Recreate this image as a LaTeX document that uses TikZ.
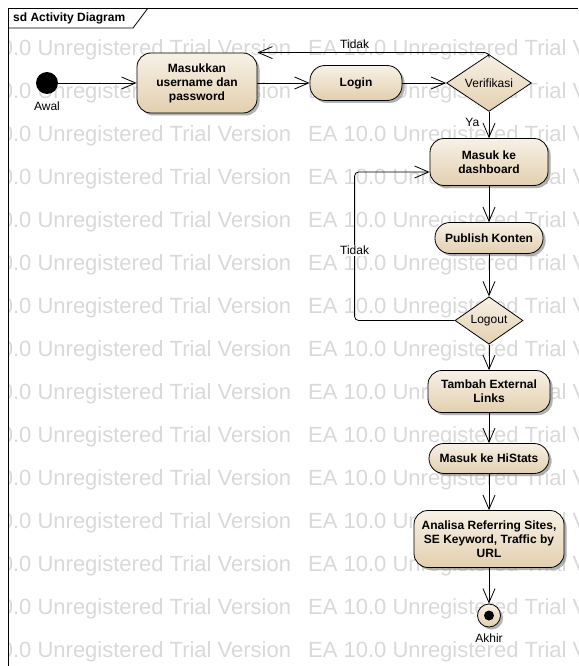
\documentclass[tikz,border=0pt]{standalone}
\usepackage{fontspec}
\setmainfont{Liberation Sans}
\usetikzlibrary{shapes.geometric, arrows.meta, shadows}
\definecolor{arena}{HTML}{F7F1E6}
\definecolor{arenaosc}{HTML}{E3CFAF}
\newcommand{\marcaagua}{EA 10.0 Unregistered Trial Version}
\tikzstyle{sombra} = [drop shadow={shadow xshift=2.5pt, shadow yshift=-2.5pt, top color=black!40, bottom color=black!40, opacity=0.45}]
\tikzstyle{accion} = [rectangle, rounded corners=14pt, align=center, draw=black, line width=0.8pt, top color=arena, bottom color=arenaosc, sombra, font=\fontsize{12}{14}\selectfont\bfseries]
\tikzstyle{pildora} = [accion, rounded corners=15pt]
\tikzstyle{decision} = [diamond, draw=black, line width=0.8pt, top color=arena, bottom color=arenaosc, inner sep=0pt, font=\fontsize{12}{14}\selectfont]
\tikzstyle{inicio} = [circle, fill=black, minimum size=22pt, inner sep=0pt]
\tikzstyle{nodofinal} = [circle, draw=black, line width=0.8pt, top color=arena, bottom color=arenaosc, sombra, minimum size=23pt, inner sep=0pt]
\tikzstyle{etiqueta} = [font=\fontsize{12}{14}\selectfont]
\tikzstyle{marca} = [anchor=west, inner sep=0pt, text=black!15, font=\fontsize{22}{24}\selectfont]
\tikzstyle{arrow} = [line width=0.8pt, -{Straight Barb[length=14pt, width=12pt]}]

\begin{document}
\begin{tikzpicture}[x=1pt, y=-1pt, node distance=150pt]
        \useasboundingbox (0,0) rectangle (578,666);
        \begin{scope}
            \clip (8,8) rectangle (578,666);
            \foreach \fila in {0,...,14} {
                \foreach \col in {-47,308} {
                    \node [marca] at (\col, 50+43*\fila) {\marcaagua};
                }
            }
        \end{scope}

        \draw [line width=0.8pt] (578,8) -- (8,8) -- (8,666);
        \draw [line width=0.8pt] (8,28) -- (133,28) -- (148,8);
        \node (titulo) [anchor=west, inner sep=0pt, font=\fontsize{12}{14}\selectfont\bfseries] at (13,18.5) {sd Activity Diagram};

        \node (awal) [inicio] at (47,83) {};
        \node (lblawal) [etiqueta, below of=awal, node distance=23pt] {Awal};
        \node (masukkan) [accion, minimum width=120pt, minimum height=60pt, right of=awal] {Masukkan\\username dan\\password};
        \node (login) [pildora, minimum width=92pt, minimum height=35pt, right of=masukkan, node distance=159pt] {Login};
        \node (verifikasi) [decision, minimum width=85pt, minimum height=48pt, right of=login, node distance=133pt] {Verifikasi};
        \node (dashboard) [accion, minimum width=118pt, minimum height=47pt, below of=verifikasi, node distance=79pt] {Masuk ke\\dashboard};
        \node (publish) [pildora, minimum width=108pt, minimum height=31pt, below of=dashboard, node distance=76pt] {Publish Konten};
        \node (logout) [decision, minimum width=68pt, minimum height=44pt, below of=publish, node distance=82.5pt] {Logout};
        \node (tambah) [accion, minimum width=122pt, minimum height=42pt, below of=logout, node distance=71pt] {Tambah External\\Links};
        \node (histats) [pildora, minimum width=120pt, minimum height=30pt, below of=tambah, node distance=67pt] {Masuk ke HiStats};
        \node (analisa) [accion, minimum width=150pt, minimum height=57pt, below of=histats, node distance=80.5pt] {Analisa Referring Sites,\\SE Keyword, Traffic by\\URL};
        \node (akhir) [nodofinal, below of=analisa, node distance=76.5pt] {};
        \fill (akhir) circle (5pt);
        \node (lblakhir) [etiqueta, below of=akhir, node distance=23pt] {Akhir};

        \draw [arrow] (awal) -- (masukkan);
        \draw [arrow] (masukkan) -- (login);
        \draw [arrow] (login) -- (verifikasi);
        \draw [arrow, rounded corners=4pt] (verifikasi.north) |- node [etiqueta, above, pos=0.79] {Tidak} (masukkan.north east);
        \draw [arrow] (verifikasi) -- node [etiqueta, left=6pt, pos=0.4] {Ya} (dashboard);
        \draw [arrow] (dashboard) -- (publish);
        \draw [arrow] (publish) -- (logout);
        \draw [arrow, rounded corners=4pt] (logout.west) -- ++(-100,0) |- node [etiqueta, fill=white, inner sep=1pt, pos=0.236] {Tidak} ([yshift=-10pt]dashboard.west);
        \draw [arrow] (logout) -- (tambah);
        \draw [arrow] (tambah) -- (histats);
        \draw [arrow] (histats) -- (analisa);
        \draw [arrow] (analisa) -- (akhir);
    \end{tikzpicture}
\end{document}
